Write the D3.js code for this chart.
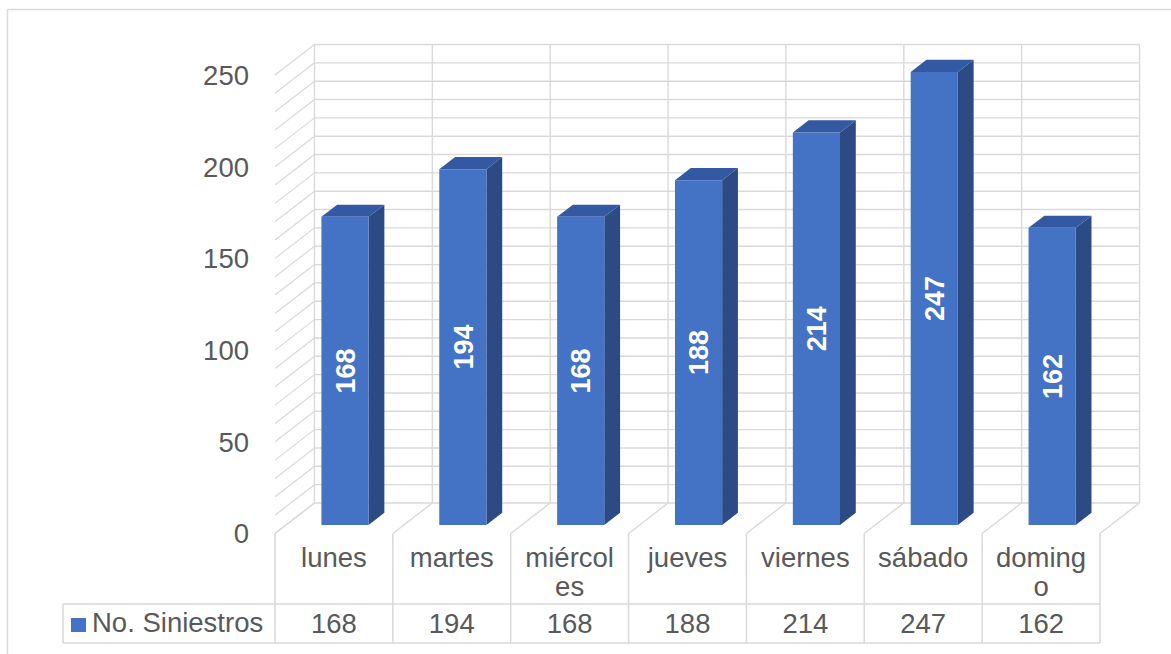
<!DOCTYPE html>
<html>
<head>
<meta charset="utf-8">
<script src="https://cdn.jsdelivr.net/npm/d3@7"></script>
<style>
  html, body { margin: 0; padding: 0; background: #ffffff; }
  svg { display: block; }
  text { font-family: "Liberation Sans", Arial, sans-serif; }
</style>
</head>
<body>
<script>
// Chart data
const categories = ["lunes", "martes", "miércoles", "jueves", "viernes", "sábado", "domingo"];
const categoryLines = [["lunes"], ["martes"], ["miércol", "es"], ["jueves"], ["viernes"], ["sábado"], ["doming", "o"]];
const siniestros = [168, 194, 168, 188, 214, 247, 162];
const seriesName = "No. Siniestros";
const yTicks = [0, 50, 100, 150, 200, 250];
const gridValues = d3.range(0, 251, 10);

const W = 1171, H = 654;
const FS = 27.5;
const svg = d3.select("body").append("svg").attr("width", W).attr("height", H);

// Front plane scales and depth offset of the 3D box
const x = d3.scaleBand().domain(categories).range([275, 1100]).paddingInner(0).paddingOuter(0);
const y = d3.scaleLinear().domain([0, 250]).range([533.5, 75]);
const DX = 39.5, DY = -30.5;
const P = (px, v, d) => [px + d * DX, y(v) + d * DY];

const grid = "#d9d9d9";
const text = "#595959";

// Outer chart border (left and top visible)
svg.append("path").attr("d", `M7.5,${H} L7.5,9.5 L${W},9.5`)
  .attr("fill", "none").attr("stroke", grid).attr("stroke-width", 1.5);

const g = svg.append("g");
const x0 = x.range()[0], x1 = x.range()[1];
const bounds = categories.map(c => x(c)).concat([x1]);

// Back wall horizontal gridlines
g.selectAll("line.back").data(gridValues).join("line")
  .attr("x1", x0 + DX).attr("x2", x1 + DX)
  .attr("y1", v => y(v) + DY).attr("y2", v => y(v) + DY)
  .attr("stroke", grid).attr("stroke-width", 1.4);

// Side wall gridlines
g.selectAll("line.side").data(gridValues).join("line")
  .attr("x1", x0).attr("y1", v => y(v))
  .attr("x2", x0 + DX).attr("y2", v => y(v) + DY)
  .attr("stroke", grid).attr("stroke-width", 1.2);

// Back wall vertical dividers
g.selectAll("line.bv").data(bounds).join("line")
  .attr("x1", b => b + DX).attr("x2", b => b + DX)
  .attr("y1", y(250) + DY).attr("y2", y(0) + DY)
  .attr("stroke", grid).attr("stroke-width", 1.4);

// Floor dividers
g.selectAll("line.floor").data(bounds).join("line")
  .attr("x1", b => b).attr("y1", y(0))
  .attr("x2", b => b + DX).attr("y2", y(0) + DY)
  .attr("stroke", grid).attr("stroke-width", 1.4);

// 3D bars
const dF = 0.28, dB = 0.68;
const barW = x.bandwidth() * 0.4;
const bars = g.selectAll("g.bar").data(categories.map((c, i) => ({ c, v: siniestros[i] }))).join("g");
bars.each(function(d) {
  const sel = d3.select(this);
  const cx = x(d.c) + x.bandwidth() / 2;
  const lx = cx - barW / 2, rx = cx + barW / 2;
  const fTL = P(lx, d.v, dF), fTR = P(rx, d.v, dF), fBR = P(rx, 0, dF), fBL = P(lx, 0, dF);
  const bTL = P(lx, d.v, dB), bTR = P(rx, d.v, dB), bBR = P(rx, 0, dB);
  const poly = pts => "M" + pts.map(p => p.join(",")).join("L") + "Z";
  sel.append("path").attr("d", poly([fTR, bTR, bBR, fBR])).attr("fill", "#2c4b84");
  sel.append("path").attr("d", poly([fTL, bTL, bTR, fTR])).attr("fill", "#3259a1");
  sel.append("path").attr("d", poly([fTL, fTR, fBR, fBL])).attr("fill", "#4472c4");
  const mx = (fTL[0] + fTR[0]) / 2, my = (fTL[1] + fBL[1]) / 2;
  sel.append("text")
    .attr("transform", `translate(${mx},${my}) rotate(-90)`)
    .attr("text-anchor", "middle").attr("dy", "0.36em")
    .attr("fill", "#ffffff").attr("font-weight", "bold").attr("font-size", 27)
    .text(d.v);
});

// Y axis tick labels
svg.selectAll("text.ytick").data(yTicks).join("text")
  .attr("x", 249).attr("y", v => y(v)).attr("dy", "0.36em")
  .attr("text-anchor", "end").attr("font-size", FS).attr("fill", text)
  .text(v => v);

// Data table below the floor
const tTop = 604, tBot = 643;
const t = svg.append("g");
t.selectAll("line.tv").data(bounds).join("line")
  .attr("x1", b => b).attr("x2", b => b)
  .attr("y1", y(0)).attr("y2", tBot)
  .attr("stroke", grid).attr("stroke-width", 1.5);
[tTop, tBot].forEach(yy => t.append("line")
  .attr("x1", 63).attr("x2", x1).attr("y1", yy).attr("y2", yy)
  .attr("stroke", grid).attr("stroke-width", 1.5));
t.append("line").attr("x1", 63).attr("x2", 63).attr("y1", tTop).attr("y2", tBot)
  .attr("stroke", grid).attr("stroke-width", 1.5);

// Category labels (wrapped)
categories.forEach((c, i) => {
  const cx = x(c) + x.bandwidth() / 2;
  categoryLines[i].forEach((ln, j) => {
    t.append("text").attr("x", cx).attr("y", 567 + j * 29)
      .attr("text-anchor", "middle").attr("font-size", FS).attr("fill", text).text(ln);
  });
  t.append("text").attr("x", cx).attr("y", 633)
    .attr("text-anchor", "middle").attr("font-size", FS).attr("fill", text).text(siniestros[i]);
});

// Legend key in the table
t.append("rect").attr("x", 71).attr("y", 618).attr("width", 15).attr("height", 14).attr("fill", "#4472c4");
t.append("text").attr("x", 92).attr("y", 632).attr("font-size", FS).attr("fill", text).text(seriesName);
</script>
</body>
</html>
